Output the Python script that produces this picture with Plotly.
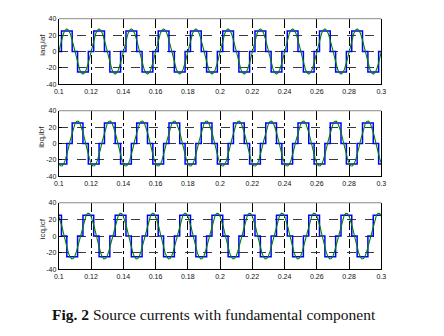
import plotly.graph_objects as go

# ---------------- data ----------------
# time grid of the fundamental (green) traces, 1 ms step from 0.1 s to 0.3 s
t_fund = [round(0.1 + 0.001 * i, 3) for i in range(201)]

ia_fund = [
    0, 8.5, 16.2, 22.3, 26.2, 27.6, 26.2, 22.3, 16.2, 8.5, 0, -8.5, -16.2, -22.3, -26.2, -27.6, -26.2, -22.3, -16.2, -8.5,
    0, 8.5, 16.2, 22.3, 26.2, 27.6, 26.2, 22.3, 16.2, 8.5, 0, -8.5, -16.2, -22.3, -26.2, -27.6, -26.2, -22.3, -16.2, -8.5,
    0, 8.5, 16.2, 22.3, 26.2, 27.6, 26.2, 22.3, 16.2, 8.5, 0, -8.5, -16.2, -22.3, -26.2, -27.6, -26.2, -22.3, -16.2, -8.5,
    0, 8.5, 16.2, 22.3, 26.2, 27.6, 26.2, 22.3, 16.2, 8.5, 0, -8.5, -16.2, -22.3, -26.2, -27.6, -26.2, -22.3, -16.2, -8.5,
    0, 8.5, 16.2, 22.3, 26.2, 27.6, 26.2, 22.3, 16.2, 8.5, 0, -8.5, -16.2, -22.3, -26.2, -27.6, -26.2, -22.3, -16.2, -8.5,
    0, 8.5, 16.2, 22.3, 26.2, 27.6, 26.2, 22.3, 16.2, 8.5, 0, -8.5, -16.2, -22.3, -26.2, -27.6, -26.2, -22.3, -16.2, -8.5,
    0, 8.5, 16.2, 22.3, 26.2, 27.6, 26.2, 22.3, 16.2, 8.5, 0, -8.5, -16.2, -22.3, -26.2, -27.6, -26.2, -22.3, -16.2, -8.5,
    0, 8.5, 16.2, 22.3, 26.2, 27.6, 26.2, 22.3, 16.2, 8.5, 0, -8.5, -16.2, -22.3, -26.2, -27.6, -26.2, -22.3, -16.2, -8.5,
    0, 8.5, 16.2, 22.3, 26.2, 27.6, 26.2, 22.3, 16.2, 8.5, 0, -8.5, -16.2, -22.3, -26.2, -27.6, -26.2, -22.3, -16.2, -8.5,
    0, 8.5, 16.2, 22.3, 26.2, 27.6, 26.2, 22.3, 16.2, 8.5, 0, -8.5, -16.2, -22.3, -26.2, -27.6, -26.2, -22.3, -16.2, -8.5,
    0,
]

ib_fund = [
    -23.9, -27.0, -27.4, -25.2, -20.5, -13.8, -5.7, 2.9, 11.2, 18.5, 23.9, 27.0, 27.4, 25.2, 20.5, 13.8, 5.7, -2.9, -11.2, -18.5,
    -23.9, -27.0, -27.4, -25.2, -20.5, -13.8, -5.7, 2.9, 11.2, 18.5, 23.9, 27.0, 27.4, 25.2, 20.5, 13.8, 5.7, -2.9, -11.2, -18.5,
    -23.9, -27.0, -27.4, -25.2, -20.5, -13.8, -5.7, 2.9, 11.2, 18.5, 23.9, 27.0, 27.4, 25.2, 20.5, 13.8, 5.7, -2.9, -11.2, -18.5,
    -23.9, -27.0, -27.4, -25.2, -20.5, -13.8, -5.7, 2.9, 11.2, 18.5, 23.9, 27.0, 27.4, 25.2, 20.5, 13.8, 5.7, -2.9, -11.2, -18.5,
    -23.9, -27.0, -27.4, -25.2, -20.5, -13.8, -5.7, 2.9, 11.2, 18.5, 23.9, 27.0, 27.4, 25.2, 20.5, 13.8, 5.7, -2.9, -11.2, -18.5,
    -23.9, -27.0, -27.4, -25.2, -20.5, -13.8, -5.7, 2.9, 11.2, 18.5, 23.9, 27.0, 27.4, 25.2, 20.5, 13.8, 5.7, -2.9, -11.2, -18.5,
    -23.9, -27.0, -27.4, -25.2, -20.5, -13.8, -5.7, 2.9, 11.2, 18.5, 23.9, 27.0, 27.4, 25.2, 20.5, 13.8, 5.7, -2.9, -11.2, -18.5,
    -23.9, -27.0, -27.4, -25.2, -20.5, -13.8, -5.7, 2.9, 11.2, 18.5, 23.9, 27.0, 27.4, 25.2, 20.5, 13.8, 5.7, -2.9, -11.2, -18.5,
    -23.9, -27.0, -27.4, -25.2, -20.5, -13.8, -5.7, 2.9, 11.2, 18.5, 23.9, 27.0, 27.4, 25.2, 20.5, 13.8, 5.7, -2.9, -11.2, -18.5,
    -23.9, -27.0, -27.4, -25.2, -20.5, -13.8, -5.7, 2.9, 11.2, 18.5, 23.9, 27.0, 27.4, 25.2, 20.5, 13.8, 5.7, -2.9, -11.2, -18.5,
    -23.9,
]

ic_fund = [
    23.9, 18.5, 11.2, 2.9, -5.7, -13.8, -20.5, -25.2, -27.4, -27.0, -23.9, -18.5, -11.2, -2.9, 5.7, 13.8, 20.5, 25.2, 27.4, 27.0,
    23.9, 18.5, 11.2, 2.9, -5.7, -13.8, -20.5, -25.2, -27.4, -27.0, -23.9, -18.5, -11.2, -2.9, 5.7, 13.8, 20.5, 25.2, 27.4, 27.0,
    23.9, 18.5, 11.2, 2.9, -5.7, -13.8, -20.5, -25.2, -27.4, -27.0, -23.9, -18.5, -11.2, -2.9, 5.7, 13.8, 20.5, 25.2, 27.4, 27.0,
    23.9, 18.5, 11.2, 2.9, -5.7, -13.8, -20.5, -25.2, -27.4, -27.0, -23.9, -18.5, -11.2, -2.9, 5.7, 13.8, 20.5, 25.2, 27.4, 27.0,
    23.9, 18.5, 11.2, 2.9, -5.7, -13.8, -20.5, -25.2, -27.4, -27.0, -23.9, -18.5, -11.2, -2.9, 5.7, 13.8, 20.5, 25.2, 27.4, 27.0,
    23.9, 18.5, 11.2, 2.9, -5.7, -13.8, -20.5, -25.2, -27.4, -27.0, -23.9, -18.5, -11.2, -2.9, 5.7, 13.8, 20.5, 25.2, 27.4, 27.0,
    23.9, 18.5, 11.2, 2.9, -5.7, -13.8, -20.5, -25.2, -27.4, -27.0, -23.9, -18.5, -11.2, -2.9, 5.7, 13.8, 20.5, 25.2, 27.4, 27.0,
    23.9, 18.5, 11.2, 2.9, -5.7, -13.8, -20.5, -25.2, -27.4, -27.0, -23.9, -18.5, -11.2, -2.9, 5.7, 13.8, 20.5, 25.2, 27.4, 27.0,
    23.9, 18.5, 11.2, 2.9, -5.7, -13.8, -20.5, -25.2, -27.4, -27.0, -23.9, -18.5, -11.2, -2.9, 5.7, 13.8, 20.5, 25.2, 27.4, 27.0,
    23.9, 18.5, 11.2, 2.9, -5.7, -13.8, -20.5, -25.2, -27.4, -27.0, -23.9, -18.5, -11.2, -2.9, 5.7, 13.8, 20.5, 25.2, 27.4, 27.0,
    23.9,
]

# stepped source currents (blue): switching instants and the level held after each
ia_step_t = [0.1, 0.10167, 0.10833, 0.11167, 0.11833, 0.12167, 0.12833, 0.13167, 0.13833,
             0.14167, 0.14833, 0.15167, 0.15833, 0.16167, 0.16833, 0.17167, 0.17833,
             0.18167, 0.18833, 0.19167, 0.19833, 0.20167, 0.20833, 0.21167, 0.21833,
             0.22167, 0.22833, 0.23167, 0.23833, 0.24167, 0.24833, 0.25167, 0.25833,
             0.26167, 0.26833, 0.27167, 0.27833, 0.28167, 0.28833, 0.29167, 0.29833, 0.3]
ia_step_v = [0, 25, 0, -25, 0, 25, 0, -25, 0, 25, 0, -25, 0, 25, 0, -25, 0, 25, 0, -25, 0,
             25, 0, -25, 0, 25, 0, -25, 0, 25, 0, -25, 0, 25, 0, -25, 0, 25, 0, -25, 0, 0]

ib_step_t = [0.1, 0.105, 0.10833, 0.115, 0.11833, 0.125, 0.12833, 0.135, 0.13833, 0.145,
             0.14833, 0.155, 0.15833, 0.165, 0.16833, 0.175, 0.17833, 0.185, 0.18833, 0.195,
             0.19833, 0.205, 0.20833, 0.215, 0.21833, 0.225, 0.22833, 0.235, 0.23833, 0.245,
             0.24833, 0.255, 0.25833, 0.265, 0.26833, 0.275, 0.27833, 0.285, 0.28833, 0.295,
             0.29833, 0.3]
ib_step_v = [-25, 0, 25, 0, -25, 0, 25, 0, -25, 0, 25, 0, -25, 0, 25, 0, -25, 0, 25, 0, -25,
             0, 25, 0, -25, 0, 25, 0, -25, 0, 25, 0, -25, 0, 25, 0, -25, 0, 25, 0, -25, -25]

ic_step_t = [0.1, 0.10167, 0.105, 0.11167, 0.115, 0.12167, 0.125, 0.13167, 0.135, 0.14167,
             0.145, 0.15167, 0.155, 0.16167, 0.165, 0.17167, 0.175, 0.18167, 0.185, 0.19167,
             0.195, 0.20167, 0.205, 0.21167, 0.215, 0.22167, 0.225, 0.23167, 0.235, 0.24167,
             0.245, 0.25167, 0.255, 0.26167, 0.265, 0.27167, 0.275, 0.28167, 0.285, 0.29167,
             0.295, 0.3]
ic_step_v = [25, 0, -25, 0, 25, 0, -25, 0, 25, 0, -25, 0, 25, 0, -25, 0, 25, 0, -25, 0, 25,
             0, -25, 0, 25, 0, -25, 0, 25, 0, -25, 0, 25, 0, -25, 0, 25, 0, -25, 0, 25, 25]

x_ticks = [0.1, 0.12, 0.14, 0.16, 0.18, 0.2, 0.22, 0.24, 0.26, 0.28, 0.3]
x_tick_labels = ["0.1", "0.12", "0.14", "0.16", "0.18", "0.2", "0.22", "0.24", "0.26", "0.28", "0.3"]
y_ticks = [-40, -20, 0, 20, 40]
y_tick_labels = ["-40", "-20", "0", "20", "40"]
y_titles = ["iaq,iaf", "ibq,ibf", "icq,icf"]
caption_bold = "Fig. 2"
caption_rest = " Source currents with fundamental component"

# ---------------- figure ----------------
W, H = 444, 336
x_dom = [55 / W, 385 / W]
panels_px = [(15, 82), (109, 176), (203, 271)]

steps = [(ia_step_t, ia_step_v), (ib_step_t, ib_step_v), (ic_step_t, ic_step_v)]
funds = [ia_fund, ib_fund, ic_fund]

fig = go.Figure()
tick_font = dict(family="Liberation Sans, Arial, sans-serif", size=7, color="#111")

for i in range(3):
    xa = "x" if i == 0 else f"x{i+1}"
    ya = "y" if i == 0 else f"y{i+1}"
    st, sv = steps[i]
    fig.add_trace(go.Scatter(x=st, y=sv, mode="lines", line=dict(color="#0000ff", width=1.5, shape="hv"),
                             xaxis=xa, yaxis=ya, showlegend=False, hoverinfo="skip"))
    fig.add_trace(go.Scatter(x=t_fund, y=funds[i], mode="lines", line=dict(color="#008000", width=1.1),
                             xaxis=xa, yaxis=ya, showlegend=False, hoverinfo="skip"))
    top, bot = panels_px[i]
    y_dom = [1 - bot / H, 1 - top / H]
    xkey = "xaxis" if i == 0 else f"xaxis{i+1}"
    ykey = "yaxis" if i == 0 else f"yaxis{i+1}"
    fig.update_layout(**{
        xkey: dict(domain=x_dom, anchor=ya, range=[0.1, 0.3], tickmode="array", tickvals=x_ticks,
                   ticktext=x_tick_labels, ticks="inside", ticklen=3, tickcolor="black",
                   showline=True, linecolor="black", linewidth=1, mirror=False,
                   showgrid=True, gridcolor="black", gridwidth=1, griddash="dashdot",
                   zeroline=False, tickfont=tick_font, fixedrange=True),
        ykey: dict(domain=y_dom, anchor=xa, range=[-40, 40], tickmode="array", tickvals=y_ticks,
                   ticktext=y_tick_labels, ticks="inside", ticklen=3, tickcolor="black",
                   showline=True, linecolor="black", linewidth=1, mirror=True,
                   showgrid=True, gridcolor="#3a3a3a", gridwidth=1, griddash="dash",
                   zeroline=False, tickfont=tick_font, fixedrange=True),
    })
    # grey top border of each axes box
    fig.add_shape(type="line", xref=f"{xa} domain", yref=f"{ya} domain", x0=0, x1=1, y0=1, y1=1,
                  line=dict(color="#8a8a8a", width=1))
    fig.add_annotation(text=y_titles[i], xref="paper", yref="paper", x=38 / W,
                       y=1 - ((top + bot) / 2 - 7) / H, textangle=-90, showarrow=False,
                       font=dict(family="Liberation Sans, Arial, sans-serif", size=8, color="#222"),
                       xanchor="center", yanchor="middle")

fig.add_annotation(text=f"<b>{caption_bold}</b>{caption_rest}", xref="paper", yref="paper",
                   x=213.5 / W, y=1 - 317 / H, showarrow=False, xanchor="center", yanchor="middle",
                   font=dict(family="Liberation Serif, Times New Roman, serif", size=15.5, color="#111"))

fig.update_layout(width=W, height=H, margin=dict(l=0, r=0, t=0, b=0),
                  paper_bgcolor="white", plot_bgcolor="white")

fig.write_html("out.html", config={"displayModeBar": False})
